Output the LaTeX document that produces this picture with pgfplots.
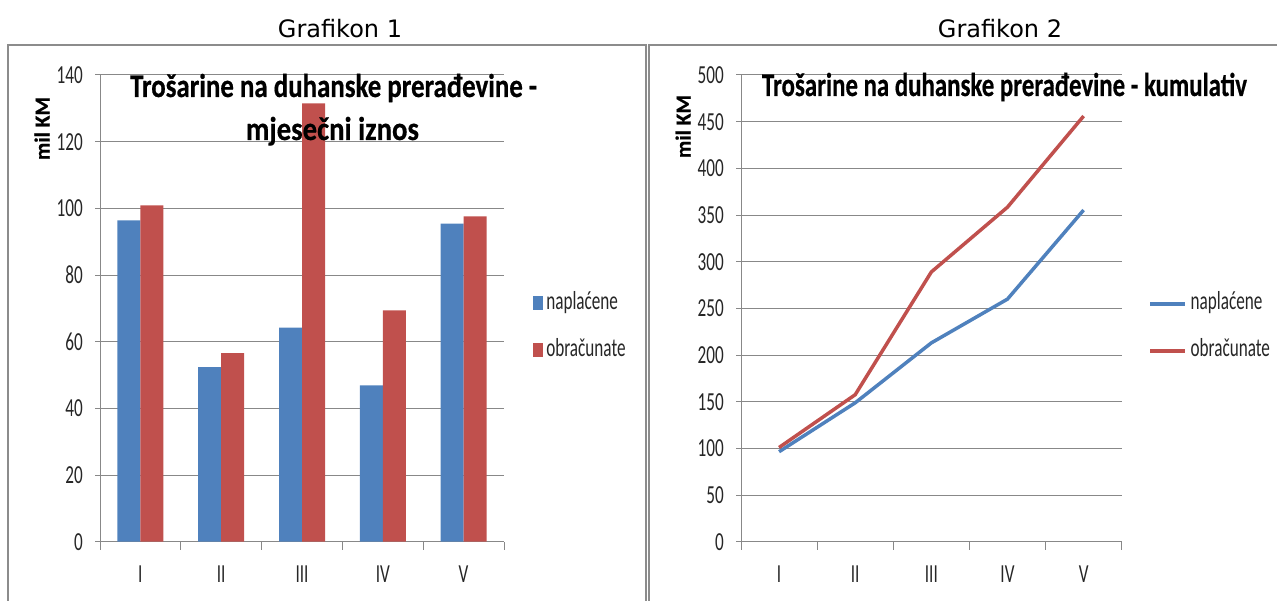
\documentclass[border=0pt]{standalone}
\usepackage{fontspec}
\setmainfont{Carlito}
\newfontfamily\cond[FakeStretch=0.66]{Carlito}
\newfontfamily\tfont[FakeBold=0.6]{Carlito Bold}
\newfontfamily\verd{DejaVu Sans}
\usepackage{pgfplots}
\usepackage{pgfplotstable}
\usepackage{graphicx}
\pgfplotsset{compat=1.18}
\definecolor{cblue}{HTML}{4F81BD}
\definecolor{cred}{HTML}{C0504D}
\definecolor{gridc}{HTML}{888888}
\definecolor{framec}{HTML}{8C8C8C}

\pgfplotstableread{
x nap obr
1 96.4 100.9
2 52.4 56.6
3 64.2 131.5
4 46.9 69.4
5 95.4 97.6
}\monthly
\pgfplotstableread{
x nap obr
1 96.4 100.9
2 148.8 157.5
3 213.0 289.0
4 259.9 358.4
5 355.3 456.0
}\cumul

\pgfplotsset{
 common/.style={
  scale only axis,
  xmin=0.5, xmax=5.5, ymin=0,
  axis x line*=bottom, axis y line*=left,
  axis line style={gridc, line width=1pt},
  tick align=outside,
  major tick length=5pt,
  minor tick length=8pt,
  tick style={gridc, line width=1pt},
  every major x tick/.append style={draw=none},
  xtick={1,2,3,4,5},
  xticklabels={I,II,III,IV,V},
  minor xtick={0.5,1.5,2.5,3.5,4.5,5.5},
  ymajorgrids,
  grid style={gridc, line width=1pt},
  /pgf/number format/assume math mode=true,
  ticklabel style={font=\cond\fontsize{26}{26}\selectfont, inner sep=0pt, text=black!85},
  xticklabel style={anchor=base, yshift=-36pt},
  yticklabel style={anchor=east},
  yticklabel shift=12pt,
  legend cell align=left,
  legend style={draw=none, fill=none, inner sep=0pt,
    font=\cond\fontsize{26}{26}\selectfont, text=black!85,
    row sep=23pt, column sep=3pt,
    nodes={inner sep=0pt, text height=18pt, text depth=6pt}},
 }
}

\begin{document}
\begin{tikzpicture}[x=1pt,y=1pt]
\path[use as bounding box] (0,0) rectangle (1277,601);
% frames
\draw[framec, line width=2pt] (8,0) -- (8,556) -- (646,556) -- (646,0);
\draw[framec, line width=2pt] (649,0) -- (649,556) -- (1277,556);

\begin{axis}[common, at={(100pt,59.3pt)}, anchor=south west,
  width=404pt, height=466.7pt,
  ymax=140, ytick={0,20,...,140},
  ybar=0pt, bar width=23pt,
  legend style={at={(1.072,0.461)}, anchor=west}]
\addplot[fill=cblue, draw=none, legend image code/.code={\fill[cblue] (0pt,-7pt) rectangle (10pt,7pt);}] table[x=x,y=nap]{\monthly};
\addlegendentry{naplaćene}
\addplot[fill=cred, draw=none, legend image code/.code={\fill[cred] (0pt,-7pt) rectangle (10pt,7pt);}] table[x=x,y=obr]{\monthly};
\addlegendentry{obračunate}
\end{axis}

\begin{axis}[common, at={(741pt,59.3pt)}, anchor=south west,
  width=380.7pt, height=466.7pt,
  ymax=500, ytick={0,50,...,500},
  legend style={at={(1.069,0.459)}, anchor=west}]
\addplot[cblue, line width=3.5pt, line join=round, legend image code/.code={\draw[cblue, line width=4.5pt] (0pt,0pt) -- (35pt,0pt);}] table[x=x,y=nap]{\cumul};
\addlegendentry{naplaćene}
\addplot[cred, line width=3.5pt, line join=round, legend image code/.code={\draw[cred, line width=4.5pt] (0pt,0pt) -- (35pt,0pt);}] table[x=x,y=obr]{\cumul};
\addlegendentry{obračunate}
\end{axis}

% titles
\node[anchor=base, inner sep=0pt] at (333.6,504) {\resizebox{407pt}{\height}{\tfont\fontsize{33}{35}\selectfont Trošarine na duhanske prerađevine -}};
\node[anchor=base, inner sep=0pt] at (332.5,461) {\resizebox{173pt}{\height}{\tfont\fontsize{33}{35}\selectfont mjesečni iznos}};
\node[anchor=base, inner sep=0pt] at (1004.5,505) {\resizebox{485pt}{\height}{\tfont\fontsize{33}{35}\selectfont Trošarine na duhanske prerađevine - kumulativ}};
% y labels
\node[rotate=90, inner sep=0pt] at (42,472.5) {\tfont\fontsize{21.4}{22}\selectfont mil KM};
\node[rotate=90, inner sep=0pt] at (683,474.5) {\tfont\fontsize{21.4}{22}\selectfont mil KM};
% headings
\node[anchor=base, inner sep=0pt] at (340,563) {\verd\fontsize{24}{26}\selectfont Grafikon 1};
\node[anchor=base, inner sep=0pt] at (1000,563) {\verd\fontsize{24}{26}\selectfont Grafikon 2};
\end{tikzpicture}
\end{document}
